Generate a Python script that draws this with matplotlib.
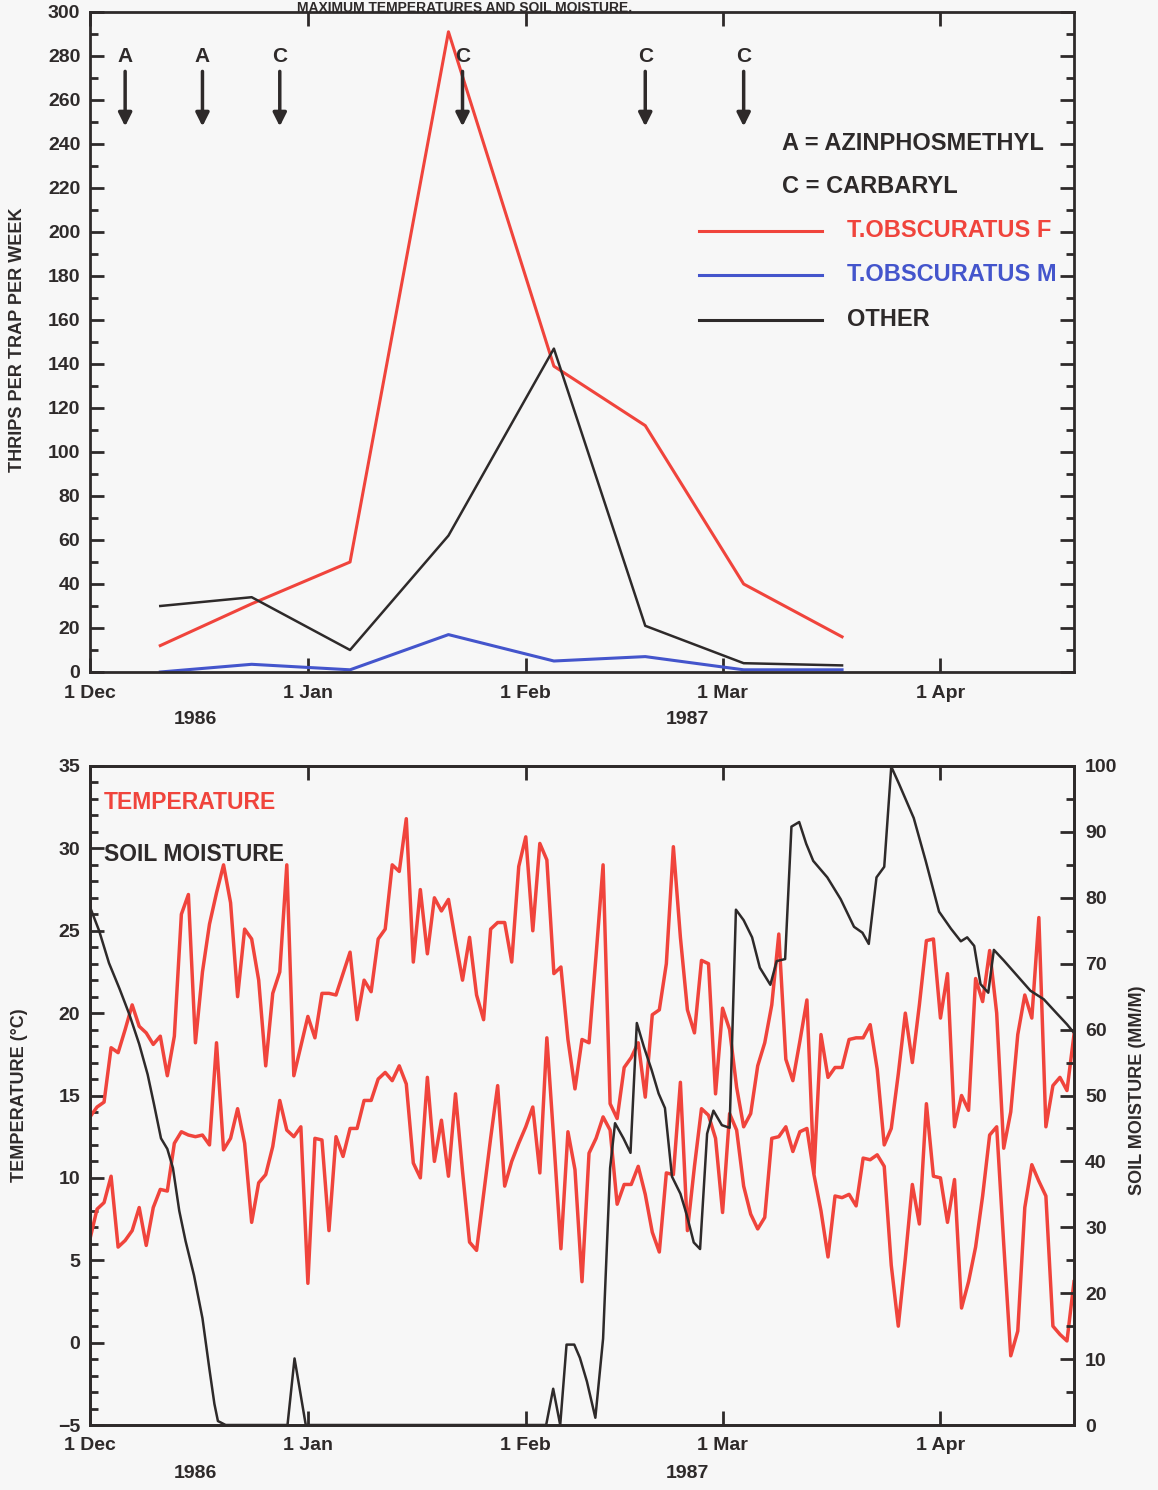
import numpy as np
import matplotlib.pyplot as plt
from matplotlib.ticker import MultipleLocator
from matplotlib.lines import Line2D

# x is days after 1 Dec 1986
month_days = [0, 31, 62, 90, 121]
month_labels = ['1 Dec', '1 Jan', '1 Feb', '1 Mar', '1 Apr']
year_days = [15, 85]
year_labels = ['1986', '1987']

# trap catches (thrips per trap per week)
trap_days = [10, 23, 37, 51, 66, 79, 93, 107]
obscuratus_f = [12, 31, 50, 291, 139, 112, 40, 16]
obscuratus_m = [0, 3.5, 1, 17, 5, 7, 1, 1]
other = [30, 34, 10, 62, 147, 21, 4, 3]

# spray applications
spray_days = [5, 16, 27, 53, 79, 93]
spray_codes = ['A', 'A', 'C', 'C', 'C', 'C']

# daily maximum / minimum temperature, deg C (day 0 .. 140)
temp_max = [13.7, 14.3, 14.6, 17.9, 17.6, 19.0, 20.5, 19.2, 18.8, 18.1,
            18.6, 16.2, 18.6, 26.0, 27.2, 18.2, 22.5, 25.4, 27.3, 29.0,
            26.7, 21.0, 25.1, 24.5, 22.0, 16.8, 21.2, 22.5, 29.0, 16.2,
            18.0, 19.8, 18.5, 21.2, 21.2, 21.1, 22.4, 23.7, 19.6, 22.0,
            21.3, 24.5, 25.1, 29.0, 28.6, 31.8, 23.1, 27.5, 23.6, 27.0,
            26.2, 26.9, 24.4, 22.0, 24.6, 21.1, 19.6, 25.1, 25.5, 25.5,
            23.1, 28.9, 30.7, 25.0, 30.3, 29.3, 22.4, 22.8, 18.4, 15.4,
            18.4, 18.2, 23.5, 29.0, 14.5, 13.6, 16.7, 17.3, 18.2, 14.9,
            19.9, 20.2, 23.0, 30.1, 24.6, 20.2, 18.8, 23.2, 23.0, 15.1,
            20.3, 19.0, 15.5, 13.1, 13.9, 16.8, 18.2, 20.5, 24.8, 17.2,
            15.9, 18.3, 20.8, 10.3, 18.7, 16.1, 16.7, 16.7, 18.4, 18.5,
            18.5, 19.3, 16.6, 12.0, 13.0, 16.3, 20.0, 17.0, 20.5, 24.4,
            24.5, 19.7, 22.4, 13.1, 15.0, 14.1, 22.1, 20.7, 23.8, 20.0,
            11.8, 14.0, 18.7, 21.1, 19.7, 25.8, 13.1, 15.6, 16.1, 15.3,
            18.7]
temp_min = [6.3, 8.1, 8.5, 10.1, 5.8, 6.2, 6.8, 8.2, 5.9, 8.2,
            9.3, 9.2, 12.1, 12.8, 12.6, 12.5, 12.6, 12.0, 18.2, 11.7,
            12.4, 14.2, 12.1, 7.3, 9.7, 10.2, 11.9, 14.7, 12.9, 12.5,
            13.1, 3.6, 12.4, 12.3, 6.8, 12.5, 11.3, 13.0, 13.0, 14.7,
            14.7, 16.0, 16.4, 15.9, 16.8, 15.7, 10.9, 10.0, 16.1, 11.0,
            13.5, 10.1, 15.1, 10.4, 6.1, 5.6, 9.0, 12.4, 15.6, 9.5,
            11.0, 12.1, 13.1, 14.3, 10.3, 18.5, 12.2, 5.7, 12.8, 10.5,
            3.7, 11.5, 12.4, 13.7, 12.9, 8.4, 9.6, 9.6, 10.7, 9.0,
            6.7, 5.5, 10.3, 10.2, 15.8, 6.8, 10.7, 14.2, 13.8, 12.4,
            7.9, 13.9, 12.9, 9.5, 7.8, 6.9, 7.6, 12.4, 12.5, 13.1,
            11.6, 12.8, 13.0, 10.2, 8.0, 5.2, 8.9, 8.8, 9.0, 8.3,
            11.2, 11.1, 11.4, 10.7, 4.7, 1.0, 5.1, 9.6, 7.2, 14.5,
            10.1, 10.0, 7.3, 9.9, 2.1, 3.7, 5.8, 8.9, 12.6, 13.1,
            6.0, -0.8, 0.7, 8.2, 10.8, 9.8, 8.9, 1.0, 0.5, 0.1,
            3.7]

# soil moisture, mm/m
soil_days = [0, 1.3, 2.7, 4.2, 5.6, 7.0, 8.2, 9.1, 10.1, 11.0, 11.8, 12.7,
             13.6, 14.8, 16.0, 17.0, 17.7, 18.2, 19.3, 28.1, 29.1, 30.7,
             64.9, 65.9, 66.9, 67.8, 68.9, 69.7, 70.7, 71.9, 73.0, 74.0,
             74.7, 75.9, 76.9, 77.8, 78.8, 79.9, 80.9, 81.8, 82.8, 84.0,
             84.9, 85.9, 86.8, 87.8, 88.7, 89.9, 91.0, 91.9, 93.0, 94.2,
             95.3, 96.8, 97.7, 98.9, 99.8, 100.9, 101.9, 102.9, 104.9,
             106.8, 108.7, 109.9, 110.8, 111.9, 113.0, 114.0, 115.1, 117.2,
             118.9, 120.8, 122.5, 123.9, 124.8, 125.8, 126.7, 127.8, 128.6,
             130.0, 131.9, 133.8, 135.7, 137.6, 139.0, 140.0]
soil_moist = [78.6, 75.0, 70.1, 66.2, 62.3, 57.8, 53.2, 48.7, 43.5, 41.9,
              39.0, 32.5, 27.9, 22.7, 16.2, 8.4, 3.2, 0.6, 0, 0, 10.1, 0,
              0, 5.5, 0, 12.2, 12.2, 10.2, 6.6, 1.1, 13.1, 39.0,
              45.8, 43.5, 41.3, 61.0, 57.4, 53.9, 50.3, 48.1, 37.7, 35.1,
              31.9, 27.7, 26.7, 44.2, 47.7, 45.5, 45.1, 78.2, 76.6, 74.0,
              69.4, 66.8, 70.4, 70.7, 90.8, 91.5, 88.2, 85.6, 83.1,
              79.8, 75.6, 74.7, 73.0, 83.1, 84.7, 99.9, 97.3, 92.1,
              85.6, 77.9, 75.3, 73.4, 74.0, 72.7, 66.9, 65.6, 72.1,
              70.5, 68.2, 65.9, 64.6, 62.4, 60.8, 59.5]

RED = '#f0443c'
BLUE = '#4455cc'
BLACK = '#2e2a2a'
BG = '#f7f7f7'

plt.rcParams['font.family'] = ['Liberation Sans', 'DejaVu Sans']
plt.rcParams['font.weight'] = 'bold'

W, H = 1158, 1490
fig = plt.figure(figsize=(W / 100, H / 100), dpi=100, facecolor=BG)


def px_axes(x0, x1, y0, y1):
    return fig.add_axes([x0 / W, 1 - y1 / H, (x1 - x0) / W, (y1 - y0) / H])


def style_time_axis(ax):
    ax.set_facecolor(BG)
    ax.set_xlim(0, 140)
    ax.set_xticks(month_days)
    ax.set_xticklabels(month_labels)
    for s in ax.spines.values():
        s.set_linewidth(2.0)
        s.set_color(BLACK)
    ax.tick_params(which='both', direction='in', colors=BLACK, width=2,
                   labelsize=14, top=True)
    ax.tick_params(which='major', length=10)
    ax.tick_params(which='minor', length=6)
    ax.tick_params(axis='x', pad=9)
    ax.tick_params(axis='y', pad=7)
    # year labels sit 48 px under the axis
    for d, lab in zip(year_days, year_labels):
        ax.annotate(lab, xy=(d, 0), xycoords=('data', 'axes fraction'),
                    xytext=(0, -48), textcoords='offset pixels',
                    ha='center', va='center', fontsize=14, color=BLACK)


# ---- top panel: thrips catches ----
ax1 = px_axes(90, 1074, 12, 672)
style_time_axis(ax1)
ax1.set_ylim(0, 300)
ax1.yaxis.set_major_locator(MultipleLocator(20))
ax1.yaxis.set_minor_locator(MultipleLocator(10))
ax1.tick_params(axis='y', which='both', right=True)

ax1.plot(trap_days, obscuratus_f, color=RED, lw=2.2)
ax1.plot(trap_days, obscuratus_m, color=BLUE, lw=2.2)
ax1.plot(trap_days, other, color=BLACK, lw=1.8)

for d, c in zip(spray_days, spray_codes):
    ax1.text(d, 280, c, ha='center', va='center', fontsize=15, color=BLACK)
    ax1.annotate('', xy=(d, 248), xytext=(d, 273),
                 arrowprops=dict(arrowstyle='-|>', color=BLACK, lw=2.5,
                                 mutation_scale=20, shrinkA=0, shrinkB=0))

ax1.text(98.5, 240, 'A = AZINPHOSMETHYL', fontsize=17, va='center', color=BLACK)
ax1.text(98.5, 220.5, 'C = CARBARYL', fontsize=17, va='center', color=BLACK)
key_y = [200.5, 180.5, 160]
key_lab = ['T.OBSCURATUS F', 'T.OBSCURATUS M', 'OTHER']
key_col = [RED, BLUE, BLACK]
for y, lab, c in zip(key_y, key_lab, key_col):
    ax1.add_line(Line2D([86.7, 104.1], [y, y], color=c, lw=2.2))
    ax1.text(107.7, y, lab, fontsize=17, va='center', color=c)

fig.text(18 / W, 1 - 340 / H, 'THRIPS PER TRAP PER WEEK', rotation=90,
         ha='center', va='center', fontsize=13, color=BLACK)
# caption line squeezed above the top frame
fig.text(465 / W, 1 - 1 / H, 'MAXIMUM TEMPERATURES AND SOIL MOISTURE.',
         ha='center', va='top', fontsize=10, color=BLACK)

# ---- bottom panel: temperature and soil moisture ----
ax2 = px_axes(90, 1074, 766, 1425)
style_time_axis(ax2)
ax2.set_ylim(-5, 35)
ax2.yaxis.set_major_locator(MultipleLocator(5))
ax2.yaxis.set_minor_locator(MultipleLocator(1))
ax2.tick_params(axis='y', which='both', right=False)

days = np.arange(len(temp_max))
ax2.plot(days, temp_max, color=RED, lw=2.5)
ax2.plot(days, temp_min, color=RED, lw=2.5)

ax3 = ax2.twinx()
ax3.set_ylim(0, 100)
ax3.yaxis.set_major_locator(MultipleLocator(10))
ax3.yaxis.set_minor_locator(MultipleLocator(5))
ax3.tick_params(which='both', direction='in', colors=BLACK, width=2,
                labelsize=14, pad=8)
ax3.tick_params(which='major', length=10)
ax3.tick_params(which='minor', length=6)
for s in ax3.spines.values():
    s.set_linewidth(2.0)
    s.set_color(BLACK)
ax3.plot(soil_days, soil_moist, color=BLACK, lw=1.8)

ax2.text(2, 32.8, 'TEMPERATURE', fontsize=16.5, va='center', color=RED)
ax2.text(2, 29.6, 'SOIL MOISTURE', fontsize=16.5, va='center', color=BLACK)

fig.text(20 / W, 1 - 1095 / H, 'TEMPERATURE (\u00b0C)', rotation=90,
         ha='center', va='center', fontsize=13, color=BLACK)
fig.text(1138 / W, 1 - 1090 / H, 'SOIL MOISTURE (MM/M)', rotation=90,
         ha='center', va='center', fontsize=13, color=BLACK)

fig.savefig('out.png', dpi=100, facecolor=BG)
